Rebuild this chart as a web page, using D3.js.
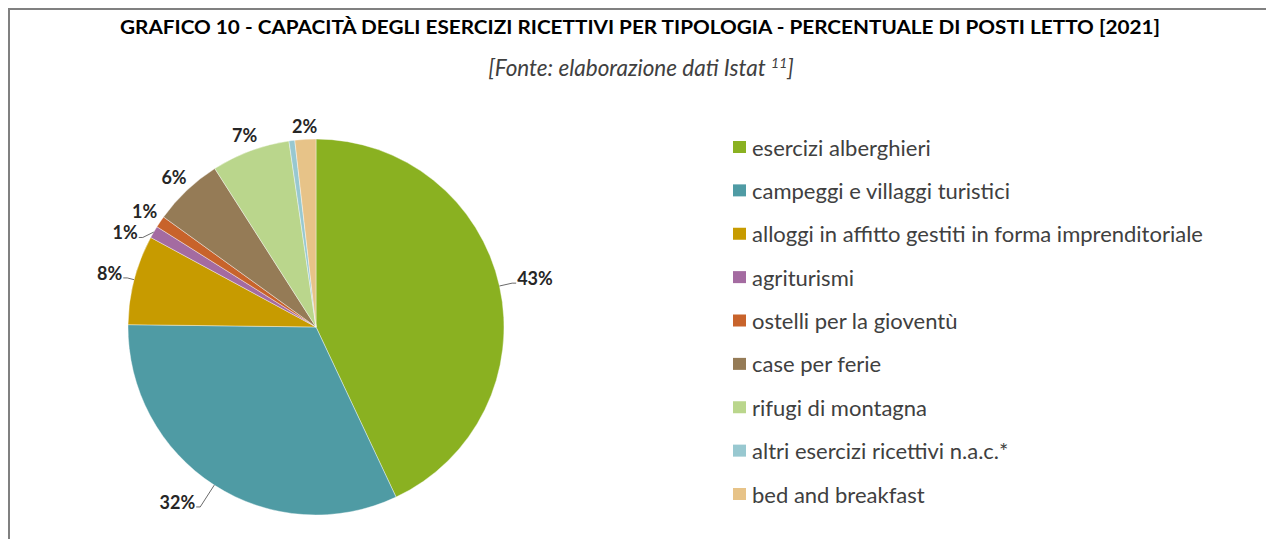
<!DOCTYPE html>
<html>
<head>
<meta charset="utf-8">
<script src="https://cdn.jsdelivr.net/npm/d3@7"></script>
<style>
	body { margin: 0; background: #fff; }
	svg text { font-family: Lato, 'Open Sans', sans-serif; }
</style>
</head>
<body>
<svg id="chart"></svg>
<script>
const categories = [
	'esercizi alberghieri',
	'campeggi e villaggi turistici',
	'alloggi in affitto gestiti in forma imprenditoriale',
	'agriturismi',
	'ostelli per la gioventù',
	'case per ferie',
	'rifugi di montagna',
	'altri esercizi ricettivi n.a.c.*',
	'bed and breakfast'
];
// share of bed places, %
const values = [43.0, 32.2, 7.7, 1.05, 1.0, 6.0, 6.75, 0.5, 1.8];
const colors = ['#8ab121', '#4f9ba4', '#c79b00', '#a46ba1', '#c8632b', '#957b56', '#bad68c', '#98c8d0', '#e7c388'];
const title = 'GRAFICO 10 - CAPACITÀ DEGLI ESERCIZI RICETTIVI PER TIPOLOGIA - PERCENTUALE DI POSTI LETTO [2021]';
const subtitle = '[Fonte: elaborazione dati Istat ';
const subtitleNote = '11';

// label layout: leader length beyond the rim (0 = no leader, null = no label)
// and a small angular nudge (degrees) of the leader end
const leaderLen = [13, 26, 7, 7, 0, 0, 0, null, 0];
const leaderShift = [0, 0, 0, -3, 0, 0, 0, 0, 0];

const width = 1266;
const height = 539;

const svg = d3.select('#chart')
	.attr('width', width)
	.attr('height', height);

// frame
svg.append('path')
	.attr('d', `M9,${height} V9 H${width}`)
	.attr('fill', 'none')
	.attr('stroke', '#808080')
	.attr('stroke-width', 2);

svg.append('text')
	.attr('x', 640).attr('y', 34)
	.attr('text-anchor', 'middle')
	.attr('font-size', 19)
	.attr('font-weight', 'bold')
	.attr('fill', '#000')
	.attr('textLength', 1040)
	.attr('lengthAdjust', 'spacingAndGlyphs')
	.text(title);

const sub = svg.append('text')
	.attr('x', 641).attr('y', 76)
	.attr('text-anchor', 'middle')
	.attr('font-size', 22.5)
	.attr('font-style', 'italic')
	.attr('fill', '#404040');
sub.append('tspan').text(subtitle);
sub.append('tspan').attr('font-size', 14).attr('dy', -8).text(subtitleNote);
sub.append('tspan').attr('dy', 8).text(']');

// pie
const cx = 316;
const cy = 327;
const r = 188;

const pie = d3.pie().sort(null).value(d => d);
const arcs = pie(values);
const arc = d3.arc().innerRadius(0).outerRadius(r);

const g = svg.append('g').attr('transform', `translate(${cx},${cy})`);

g.selectAll('path.slice')
	.data(arcs)
	.enter()
	.append('path')
		.attr('class', 'slice')
		.attr('d', arc)
		.attr('fill', (d, i) => colors[i])
		.attr('stroke', '#fff')
		.attr('stroke-width', 0.4);

const fmt = d3.format('.0%');
const total = d3.sum(values);
const labelSize = 18;
const polar = (a, rad) => [Math.sin(a) * rad, -Math.cos(a) * rad];

arcs.forEach((d, i) => {
	if (leaderLen[i] === null) return;
	const mid = (d.startAngle + d.endAngle) / 2;
	const txt = fmt(d.value / total);
	const label = g.append('text')
		.attr('font-size', labelSize)
		.attr('font-weight', 'bold')
		.attr('fill', '#262626')
		.attr('dominant-baseline', 'central')
		.text(txt);
	const bb = label.node().getBBox();
	if (leaderLen[i] > 0) {
		const p0 = polar(mid, r);
		const p1 = polar(mid + leaderShift[i] * Math.PI / 180, r + leaderLen[i]);
		const side = Math.sin(mid) >= 0 ? 1 : -1;
		const p2 = [p1[0] + side * 4, p1[1]];
		g.append('polyline')
			.attr('points', [p0, p1, p2].map(p => p.join(',')).join(' '))
			.attr('fill', 'none')
			.attr('stroke', '#595959')
			.attr('stroke-width', 0.9);
		label
			.attr('text-anchor', side > 0 ? 'start' : 'end')
			.attr('x', p2[0] + side * 1)
			.attr('y', p2[1] - 5);
	} else {
		const off = bb.width / 2 * Math.abs(Math.sin(mid)) + bb.height / 2 * Math.abs(Math.cos(mid)) + 2;
		const p = polar(mid, r + off);
		label
			.attr('text-anchor', 'middle')
			.attr('x', p[0])
			.attr('y', p[1]);
	}
});

// legend
const legendY = d3.scalePoint()
	.domain(categories)
	.range([147, 494]);

const legend = svg.append('g').attr('transform', 'translate(733,0)');
const rows = legend.selectAll('g')
	.data(categories)
	.enter()
	.append('g')
		.attr('transform', d => `translate(0,${legendY(d)})`);
rows.append('rect')
	.attr('x', 0).attr('y', -6)
	.attr('width', 13).attr('height', 12)
	.attr('fill', (d, i) => colors[i]);
rows.append('text')
	.attr('x', 19).attr('y', 0)
	.attr('dominant-baseline', 'central')
	.attr('font-size', 22)
	.attr('fill', '#404040')
	.text(d => d);
</script>
</body>
</html>
